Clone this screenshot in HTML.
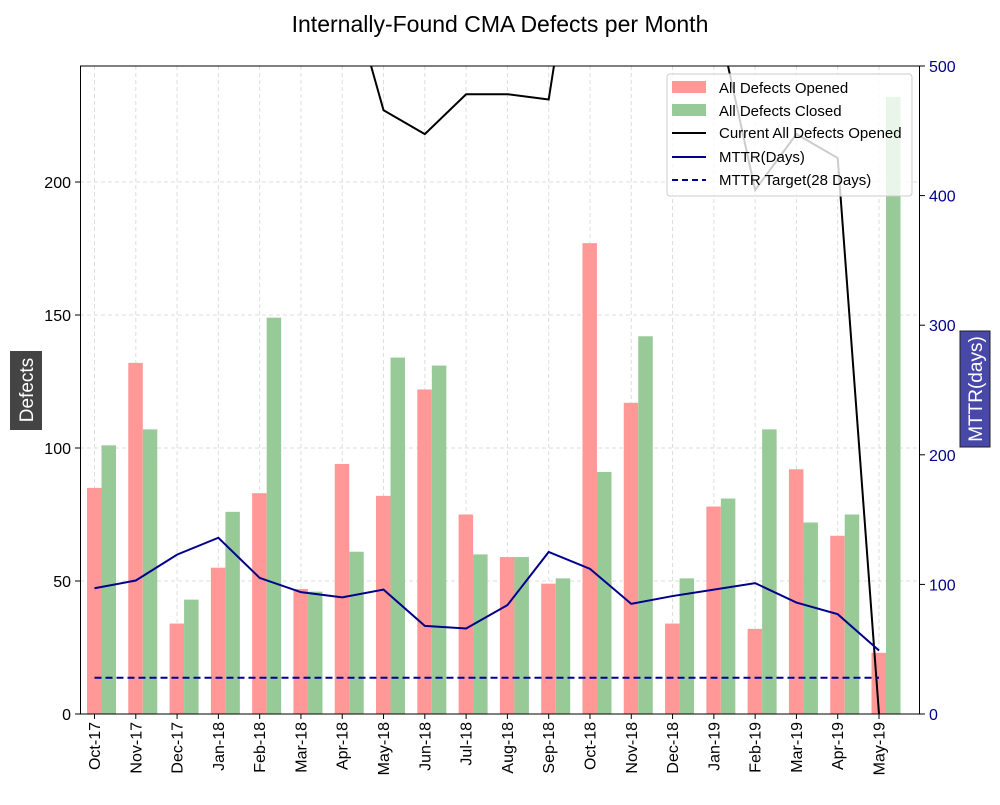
<!DOCTYPE html>
<html><head><meta charset="utf-8"><style>
body{margin:0;background:#fff;}
svg text{font-family:"Liberation Sans",sans-serif;}
</style></head><body>
<svg id="chart" width="1000" height="800" xmlns="http://www.w3.org/2000/svg">
<text x="500" y="32" text-anchor="middle" font-size="23">Internally-Found CMA Defects per Month</text>
<defs><clipPath id="pc"><rect x="80" y="66" width="840" height="648"/></clipPath></defs>
<g id="grid"></g>
<g id="bars"></g>
<g id="lines" clip-path="url(#pc)"></g>
<g id="axes"></g>
<g>
<rect x="667" y="74" width="245" height="122" rx="3" fill="#fff" fill-opacity="0.8" stroke="#ccc"/>
<rect x="672" y="81" width="34" height="12" fill="#ff9896"/>
<text x="719" y="93" font-size="15">All Defects Opened</text>
<rect x="672" y="104" width="34" height="12" fill="#98ca98"/>
<text x="719" y="116" font-size="15">All Defects Closed</text>
<line x1="672" y1="133" x2="706" y2="133" stroke="#000" stroke-width="2"/>
<text x="719" y="138" font-size="15">Current All Defects Opened</text>
<line x1="672" y1="157" x2="706" y2="157" stroke="#00008b" stroke-width="2"/>
<text x="719" y="162" font-size="15">MTTR(Days)</text>
<line x1="672" y1="180" x2="706" y2="180" stroke="#00008b" stroke-width="2" stroke-dasharray="6,4"/>
<text x="719" y="185" font-size="15">MTTR Target(28 Days)</text>
</g>
<g>
<rect x="10" y="351" width="32" height="79" fill="#444"/>
<text transform="translate(33,390) rotate(-90)" text-anchor="middle" font-size="19" fill="#fff">Defects</text>
</g>
<g>
<rect x="960" y="331" width="30" height="116" fill="#4848a8" stroke="#222"/>
<text transform="translate(982,389) rotate(-90)" text-anchor="middle" font-size="19" fill="#fff">MTTR(days)</text>
</g>
</svg>
<script>
const months=["Oct-17","Nov-17","Dec-17","Jan-18","Feb-18","Mar-18","Apr-18","May-18","Jun-18","Jul-18","Aug-18","Sep-18","Oct-18","Nov-18","Dec-18","Jan-19","Feb-19","Mar-19","Apr-19","May-19"];
const opened=[85,132,34,55,83,47,94,82,122,75,59,49,177,117,34,78,32,92,67,23];
const closed=[101,107,43,76,149,46,61,134,131,60,59,51,91,142,51,81,107,72,75,232];
const currentOpen=[300,300,300,300,300,300,282,227,218,233,233,231,330,320,300,268,197,218,209,0];
const mttr=[97,103,123,136,105,94,90,96,68,66,84,125,112,85,91,96,101,86,77,49];
const mttrTarget=28;
const leftTicks=[0,50,100,150,200];
const rightTicks=[0,100,200,300,400,500];
const NS="http://www.w3.org/2000/svg";
const X0=94.5,DX=41.29,Y0=714;
const xs=i=>X0+i*DX;
const yL=v=>Y0-v*2.66;
const yR=v=>Y0-v*1.296;
function mk(tag,attrs,parent){const e=document.createElementNS(NS,tag);for(const k in attrs)e.setAttribute(k,attrs[k]);parent.appendChild(e);return e;}
const grid=document.getElementById('grid'),bars=document.getElementById('bars'),lines=document.getElementById('lines'),axes=document.getElementById('axes');
months.forEach((m,i)=>{
  const g=mk('line',{x1:xs(i),x2:xs(i),y1:66,y2:714,stroke:'#ddd','stroke-dasharray':'4,3'},grid);
  
  
});
leftTicks.forEach(t=>{
  const g=mk('line',{x1:80,x2:920,y1:yL(t),y2:yL(t),stroke:'#ddd','stroke-dasharray':'4,3'},grid);
  
  
});
const W=14.5;
months.forEach((m,i)=>{
  const a=mk('rect',{x:xs(i)-7.5,y:yL(opened[i]),width:W,height:Y0-yL(opened[i]),fill:'#ff9896'},bars);
  
  
  const b=mk('rect',{x:xs(i)+7,y:yL(closed[i]),width:W,height:Y0-yL(closed[i]),fill:'#98ca98'},bars);
  
  
});
const p1=mk('polyline',{points:currentOpen.map((v,i)=>xs(i)+','+yL(v)).join(' '),fill:'none',stroke:'#000','stroke-width':2},lines);


const p2=mk('polyline',{points:mttr.map((v,i)=>xs(i)+','+yR(v)).join(' '),fill:'none',stroke:'#00008b','stroke-width':2},lines);


const p3=mk('line',{x1:xs(0),x2:xs(months.length-1),y1:yR(mttrTarget),y2:yR(mttrTarget),stroke:'#00008b','stroke-width':2,'stroke-dasharray':'7,4'},lines);


mk('rect',{x:80.5,y:66,width:839,height:648,fill:'none',stroke:'#000','stroke-width':1},axes);
leftTicks.forEach(t=>{
  mk('line',{x1:75,x2:80,y1:yL(t),y2:yL(t),stroke:'#000'},axes);
  const tx=mk('text',{x:71,y:yL(t)+6,'text-anchor':'end','font-size':16},axes);
  tx.textContent=t;
  
  
});
rightTicks.forEach(t=>{
  mk('line',{x1:920,x2:925,y1:yR(t),y2:yR(t),stroke:'#000'},axes);
  const tx=mk('text',{x:929,y:yR(t)+6,'font-size':16,fill:'#00008b'},axes);
  tx.textContent=t;
  
  
});
months.forEach((m,i)=>{
  mk('line',{x1:xs(i),x2:xs(i),y1:714,y2:719,stroke:'#000'},axes);
  const tx=mk('text',{transform:'translate('+(xs(i)+5.5)+',722) rotate(-90)','text-anchor':'end','font-size':16},axes);
  tx.textContent=m;
  
  
});
</script>
</body></html>
